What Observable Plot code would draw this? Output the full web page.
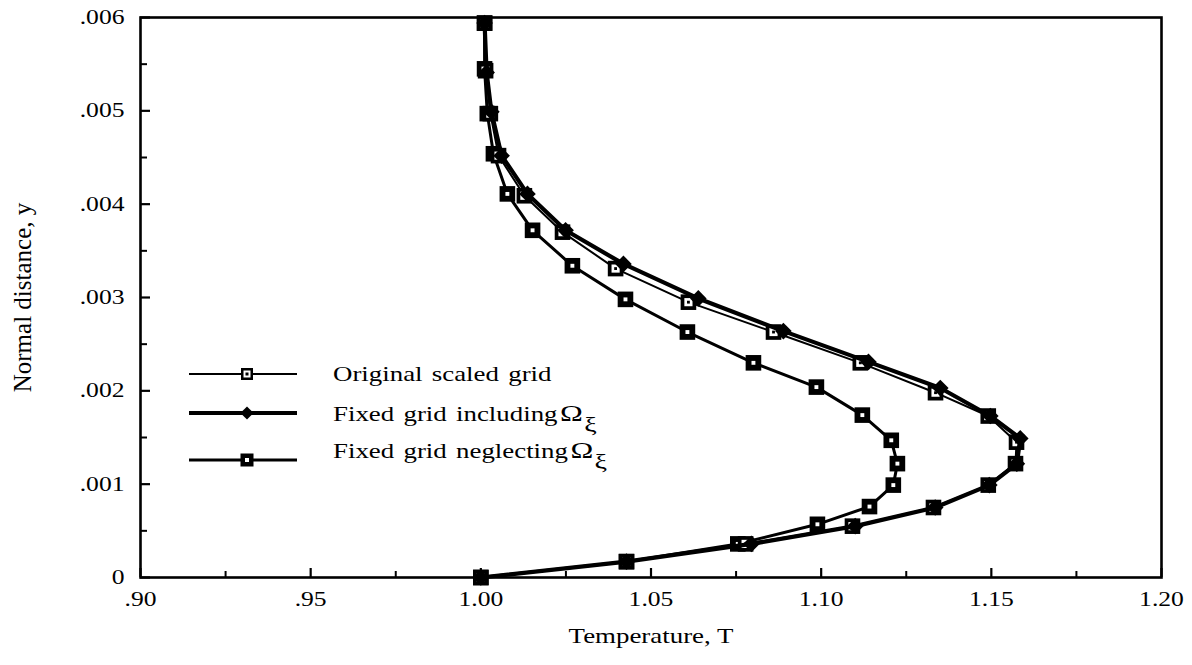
<!DOCTYPE html>
<html>
<head>
<meta charset="utf-8">
<script src="https://cdn.jsdelivr.net/npm/d3@7"></script>
<script src="https://cdn.jsdelivr.net/npm/@observablehq/plot@0.6"></script>
<style>
  html, body { margin: 0; padding: 0; background: #fff; }
  #chart { width: 1192px; height: 665px; }
</style>
</head>
<body>
<div id="chart"></div>
<script>
// Temperature profiles across the boundary layer for three grid treatments
const originalT = [1.000, 1.0428, 1.0778, 1.1092, 1.1330, 1.1491, 1.1571, 1.1574, 1.1491, 1.1336,
                   1.1115, 1.0860, 1.0610, 1.0396, 1.0240, 1.0128, 1.0052, 1.0028, 1.0014, 1.0011];
const originalY = [0, .00017, .00036, .00055, .00075, .00099, .00122, .00145, .00173, .00198,
                   .00230, .00263, .00295, .00331, .00370, .00409, .00452, .00497, .00543, .00594];

const includingT = [1.000, 1.0428, 1.0795, 1.1100, 1.1335, 1.1494, 1.1575, 1.1585, 1.1497, 1.1350,
                    1.1139, 1.0889, 1.0639, 1.0419, 1.0249, 1.0137, 1.0061, 1.0031, 1.0017, 1.0011];
const includingY = [0, .00017, .00036, .00055, .00075, .00099, .00122, .00149, .00173, .00203,
                    .00231, .00264, .00299, .00336, .00372, .00411, .00452, .00499, .00541, .00594];

const neglectingT = [1.000, 1.0428, 1.0755, 1.0989, 1.1142, 1.1212, 1.1224, 1.1206, 1.1121, 1.0986,
                     1.0801, 1.0607, 1.0425, 1.0269, 1.0152, 1.0078, 1.0037, 1.0019, 1.0011, 1.0011];
const neglectingY = [0, .00017, .00036, .00057, .00076, .00099, .00122, .00147, .00174, .00204,
                     .00230, .00263, .00298, .00334, .00372, .00411, .00454, .00497, .00545, .00594];

const seriesNames = ["Original scaled grid", "Fixed grid including", "Fixed grid neglecting"];

const xMajorTicks = [0.90, 0.95, 1.00, 1.05, 1.10, 1.15, 1.20];
const xMinorTicks = [0.925, 0.975, 1.025, 1.075, 1.125, 1.175];
const yMajorTicks = [0, 0.001, 0.002, 0.003, 0.004, 0.005, 0.006];
const yMinorTicks = [0.0005, 0.0015, 0.0025, 0.0035, 0.0045, 0.0055];

const xTitle = "Temperature, T";
const yTitle = "Normal distance, y";

const toRows = (T, Y) => T.map((t, i) => ({T: t, y: Y[i]}));
const original = toRows(originalT, originalY);
const including = toRows(includingT, includingY);
const neglecting = toRows(neglectingT, neglectingY);

const fmtX = d => d < 1 ? d.toFixed(2).slice(1) : d.toFixed(2);
const fmtY = d => d === 0 ? "0" : d.toFixed(3).slice(1);
const blank = () => "";

const serif = "'Liberation Serif', 'Times New Roman', Times, serif";

const plot = Plot.plot({
  width: 1192,
  height: 665,
  marginLeft: 140,
  marginRight: 31,
  marginTop: 17,
  marginBottom: 88,
  style: {fontFamily: serif, fontSize: "20px", color: "#000", background: "#fff"},
  x: {domain: [0.9, 1.2]},
  y: {domain: [0, 0.006]},
  marks: [
    // inward tick marks
    Plot.axisX({ticks: xMajorTicks, tickSize: -9, strokeWidth: 2.2, tickFormat: blank, label: null}),
    Plot.axisX({ticks: xMinorTicks, tickSize: -6, strokeWidth: 2, tickFormat: blank, label: null}),
    Plot.axisY({ticks: yMajorTicks, tickSize: -10, strokeWidth: 2.2, tickFormat: blank, label: null}),
    Plot.axisY({ticks: yMinorTicks, tickSize: -7, strokeWidth: 2, tickFormat: blank, label: null}),
    // tick labels
    Plot.axisX({ticks: xMajorTicks, tickSize: 0, tickPadding: 14, tickFormat: fmtX, label: null, fontSize: 20}),
    Plot.axisY({ticks: yMajorTicks, tickSize: 0, tickPadding: 16, tickFormat: fmtY, label: null, fontSize: 20}),
    Plot.frame({stroke: "#000", strokeWidth: 2.6}),

    // Fixed grid neglecting Ω_ξ
    Plot.line(neglecting, {x: "T", y: "y", stroke: "#000", strokeWidth: 3}),
    Plot.dot(neglecting, {x: "T", y: "y", symbol: "square", r: 8.8, fill: "#000"}),
    Plot.dot(neglecting, {x: "T", y: "y", symbol: "square", r: 2.2, fill: "#fff"}),

    // Original scaled grid
    Plot.line(original, {x: "T", y: "y", stroke: "#000", strokeWidth: 2}),
    Plot.dot(original, {x: "T", y: "y", symbol: "square", r: 8.8, fill: "#000"}),
    Plot.dot(original, {x: "T", y: "y", symbol: "square", r: 4.6, fill: "#fff"}),
    Plot.dot(original, {x: "T", y: "y", symbol: "square", r: 1.6, fill: "#000"}),

    // Fixed grid including Ω_ξ
    Plot.line(including, {x: "T", y: "y", stroke: "#000", strokeWidth: 4.2}),
    Plot.dot(including, {x: "T", y: "y", symbol: "diamond2", r: 7.5, fill: "#000"}),

    // axis titles
    Plot.text([xTitle], {frameAnchor: "bottom", dy: 65, fontSize: 21}),
    Plot.text([yTitle], {frameAnchor: "left", textAnchor: "middle", dx: -118, rotate: -90, fontSize: 25, className: "ytitle"})
  ]
});

document.getElementById("chart").append(plot);

// The printed figure is horizontally wider than its type; widen the glyphs to suit.
const STRETCH = 1.28;
plot.querySelectorAll("text").forEach(t => {
  if (t.closest(".ytitle")) return;
  const len = t.getComputedTextLength();
  if (len > 0) {
    t.setAttribute("textLength", (len * STRETCH).toFixed(2));
    t.setAttribute("lengthAdjust", "spacingAndGlyphs");
  }
});

// Legend inside the plotting area
const svg = d3.select(plot);
const lg = svg.append("g").attr("class", "legend").attr("text-anchor", "start");
const rows = [
  {name: seriesNames[0], lineY: 374, textY: 381, width: 2, marker: "open", omega: false},
  {name: seriesNames[1], lineY: 413, textY: 421, width: 4, marker: "diamond", omega: true},
  {name: seriesNames[2], lineY: 460, textY: 458, width: 3, marker: "square", omega: true}
];
rows.forEach(r => {
  lg.append("line").attr("x1", 189).attr("x2", 297).attr("y1", r.lineY).attr("y2", r.lineY)
    .attr("stroke", "#000").attr("stroke-width", r.width);
  const cx = 247;
  if (r.marker === "open") {
    lg.append("rect").attr("x", cx - 6).attr("y", r.lineY - 6).attr("width", 12).attr("height", 12).attr("fill", "#000");
    lg.append("rect").attr("x", cx - 3.5).attr("y", r.lineY - 3.5).attr("width", 7).attr("height", 7).attr("fill", "#fff");
    lg.append("rect").attr("x", cx - 1.5).attr("y", r.lineY - 1.5).attr("width", 3).attr("height", 3).attr("fill", "#000");
  } else if (r.marker === "diamond") {
    lg.append("path").attr("d", d3.symbol(d3.symbolDiamond2, 110)()).attr("transform", `translate(${cx},${r.lineY})`).attr("fill", "#000");
  } else {
    lg.append("rect").attr("x", cx - 6.5).attr("y", r.lineY - 6.5).attr("width", 13).attr("height", 13).attr("fill", "#000");
    lg.append("rect").attr("x", cx - 2).attr("y", r.lineY - 2).attr("width", 4).attr("height", 4).attr("fill", "#fff");
  }
  const g = lg.append("g").attr("transform", `translate(333,${r.textY}) scale(${STRETCH},1)`);
  const txt = g.append("text").attr("x", 0).attr("y", 0).attr("text-anchor", "start")
    .attr("font-family", serif).attr("font-size", 21).attr("word-spacing", 2).attr("fill", "#000");
  txt.append("tspan").text(r.name);
  if (r.omega) {
    txt.append("tspan").attr("dx", 2).attr("font-size", 24).text("Ω");
    txt.append("tspan").attr("dx", 1).attr("dy", 11).attr("font-size", 22).text("ξ");
  }
});
</script>
</body>
</html>
